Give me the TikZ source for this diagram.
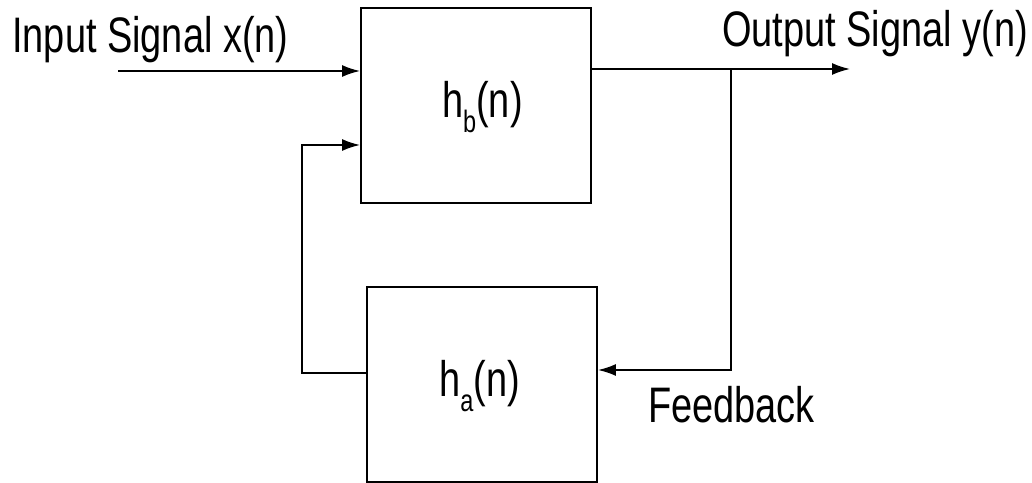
\documentclass[tikz,border=0pt]{standalone}
\usepackage{fontspec}
\setmainfont{Liberation Sans}
\usepackage{tikz}
\usetikzlibrary{arrows.meta}
\newcommand{\sqz}[1]{\scalebox{0.76}[1]{#1}}
\newcommand{\lowsub}[1]{\raisebox{-10pt}{\fontsize{22}{22}\selectfont #1}}

\begin{document}
\begin{tikzpicture}[
    font=\fontsize{35.5}{40}\selectfont,
    blockbox/.style={draw, line width=1.4pt, minimum width=5.75cm, minimum height=4.875cm, inner sep=0pt},
    arr/.style={line width=1.2pt, -{Latex[length=0.45cm, width=0.3cm]}}
  ]
        \useasboundingbox (0,0) rectangle (25.8,-12.075);
        \node[blockbox] (hb) at (11.9,-2.6375) {};
        \node[blockbox] (ha) at (12.05,-9.6125) {};
        \node[anchor=base] (hbtxt) at (12.06,-2.95) {\sqz{h\lowsub{b}(n)}};
        \node[anchor=base] (hatxt) at (11.99,-9.925) {\sqz{h\lowsub{a}(n)}};
        \node[anchor=base west, inner sep=0pt] (intxt) at (0.3,-1.325) {\sqz{Input Signal x(n)}};
        \node[anchor=base west, inner sep=0pt] (outtxt) at (18.05,-1.175) {\sqz{Output Signal y(n)}};
        \node[anchor=base west, inner sep=0pt] (fbtxt) at (16.2,-10.55) {\sqz{Feedback}};
        % signal path
        \coordinate (in) at (2.95,-1.775);
        \coordinate (out) at (21.25,-1.725);
        \coordinate (br) at (18.275,-1.725);
        \coordinate (fbin) at (18.275,-9.25);
        \coordinate (haout) at (7.55,-9.325);
        \coordinate (lp) at (7.55,-3.625);
        \draw[arr] (in) -- (hb.west |- in);
        \draw[arr] (hb.east |- out) -- (out);
        \draw[arr] (br) -- (fbin) -- (ha.east |- fbin);
        \draw[arr] (ha.west |- haout) -- (haout) -- (lp) -- (hb.west |- lp);
      \end{tikzpicture}
\end{document}
